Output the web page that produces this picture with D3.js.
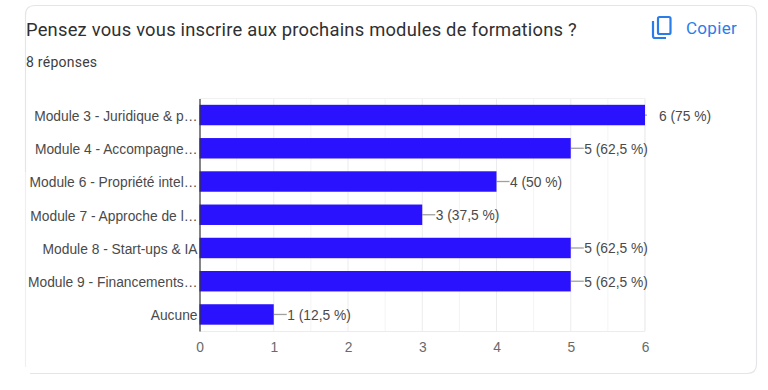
<!DOCTYPE html>
<html>
<head>
<meta charset="utf-8">
<script src="https://cdnjs.cloudflare.com/ajax/libs/d3/7.8.5/d3.min.js"></script>
<style>
  html, body { margin: 0; padding: 0; background: #fff; }
  svg { display: block; }
  text { font-family: "Liberation Sans", Arial, sans-serif; }
</style>
</head>
<body>
<svg id="chart" width="768" height="390"></svg>
<script>
var categories = [
  "Module 3 - Juridique & p…",
  "Module 4 - Accompagne…",
  "Module 6 - Propriété intel…",
  "Module 7 - Approche de l…",
  "Module 8 - Start-ups & IA",
  "Module 9 - Financements…",
  "Aucune"
];
var counts = [6, 5, 4, 3, 5, 5, 1];
var valueLabels = ["6 (75 %)", "5 (62,5 %)", "4 (50 %)", "3 (37,5 %)", "5 (62,5 %)", "5 (62,5 %)", "1 (12,5 %)"];
var xTicks = [0, 1, 2, 3, 4, 5, 6];
var xGrid = [0.5, 1, 1.5, 2, 2.5, 3, 3.5, 4, 4.5, 5, 5.5, 6];

var svg = d3.select("#chart");

// card outline, the left edge fades out near the bottom
svg.append("path")
    .attr("d", "M25.5,172 V15 Q25.5,5.5 35,5.5 H747 Q756.5,5.5 756.5,15 V364 Q756.5,373.5 747,373.5 H30")
    .attr("fill", "none")
    .attr("stroke", "#e4e5e9")
    .attr("stroke-width", 1.2);
svg.append("line")
    .attr("x1", 25.5).attr("x2", 25.5).attr("y1", 172).attr("y2", 367)
    .attr("stroke", "#eeeff1")
    .attr("stroke-width", 1.2);

svg.append("text")
    .attr("x", 26).attr("y", 35.5)
    .attr("fill", "#2f3033")
    .style("font-family", "Roboto, sans-serif")
    .style("font-size", "18.35px")
    .style("letter-spacing", "0.22px")
    .text("Pensez vous vous inscrire aux prochains modules de formations ?");

svg.append("text")
    .attr("x", 26).attr("y", 66.5)
    .attr("fill", "#3c3d40")
    .style("font-family", "Roboto, sans-serif")
    .style("font-size", "14px")
    .style("letter-spacing", "0.25px")
    .text("8 réponses");

// copy button
var copy = svg.append("g").attr("fill", "none").attr("stroke", "#2a7de9").attr("stroke-width", 2.2);
copy.append("rect").attr("x", 658).attr("y", 17).attr("width", 12.5).attr("height", 17).attr("rx", 1.5);
copy.append("path").attr("d", "M653,21 V36 Q653,38 655,38 H666");

svg.append("text")
    .attr("x", 686).attr("y", 33.5)
    .attr("fill", "#2a7de9")
    .style("font-family", "Roboto, sans-serif")
    .style("font-size", "17px")
    .style("letter-spacing", "0.3px")
    .text("Copier");

var x = d3.scaleLinear().domain([0, 6]).range([199.5, 645]);
var y = d3.scaleBand().domain(categories).range([98.5, 331]).paddingInner(0.385).paddingOuter(0.19);

// gridlines
svg.append("g").selectAll("line").data(xGrid).join("line")
    .attr("x1", function(d) { return x(d); })
    .attr("x2", function(d) { return x(d); })
    .attr("y1", 98.5).attr("y2", 331)
    .attr("stroke", function(d) { return d % 1 === 0 ? "#ececec" : "#f4f4f4"; })
    .attr("stroke-width", function(d) { return d === 6 ? 1.3 : 1; });
svg.append("line")
    .attr("x1", x(0)).attr("x2", x(6)).attr("y1", 98.5).attr("y2", 98.5)
    .attr("stroke", "#f1f1f1");
svg.append("line")
    .attr("x1", x(0)).attr("x2", x(6)).attr("y1", 331.5).attr("y2", 331.5)
    .attr("stroke", "#ececec");

// leader lines
svg.append("g").selectAll("line").data(counts).join("line")
    .attr("x1", function(d) { return x(d); })
    .attr("x2", function(d) { return x(d) + (d === 6 ? 2 : 13); })
    .attr("y1", function(d, i) { return y(categories[i]) + y.bandwidth() / 2; })
    .attr("y2", function(d, i) { return y(categories[i]) + y.bandwidth() / 2; })
    .attr("stroke", "#a0a0a0")
    .attr("stroke-width", 1.3);

// bars
svg.append("g").selectAll("rect").data(counts).join("rect")
    .attr("x", x(0))
    .attr("y", function(d, i) { return y(categories[i]); })
    .attr("width", function(d) { return x(d) - x(0); })
    .attr("height", y.bandwidth())
    .attr("fill", "#2a12ff");

// value labels
svg.append("g").selectAll("text").data(counts).join("text")
    .attr("x", function(d) { return x(d) + (d === 6 ? 14 : 13.5); })
    .attr("y", function(d, i) { return y(categories[i]) + y.bandwidth() / 2 + 5.5; })
    .attr("fill", "#4a4a4a")
    .style("font-size", "13.8px")
    .text(function(d, i) { return valueLabels[i]; });

// category axis
var yAxis = svg.append("g")
    .attr("transform", "translate(199.5,0)")
    .call(d3.axisLeft(y).tickSize(0).tickPadding(2));
yAxis.select(".domain").attr("stroke", "#333").attr("stroke-width", 1.2);
yAxis.selectAll("text")
    .attr("dy", "0.42em")
    .attr("fill", "#4a4a4a")
    .style("font-size", "13.8px")
    .style("font-family", '"Liberation Sans", Arial, sans-serif');

// value axis
var xAxis = svg.append("g")
    .attr("transform", "translate(0,331)")
    .call(d3.axisBottom(x).tickValues(xTicks).tickSize(0).tickPadding(11.5).tickFormat(d3.format("d")));
xAxis.select(".domain").remove();
xAxis.selectAll("text")
    .attr("fill", "#6a6a6a")
    .style("font-size", "13.8px")
    .style("font-family", '"Liberation Sans", Arial, sans-serif');
</script>
</body>
</html>
